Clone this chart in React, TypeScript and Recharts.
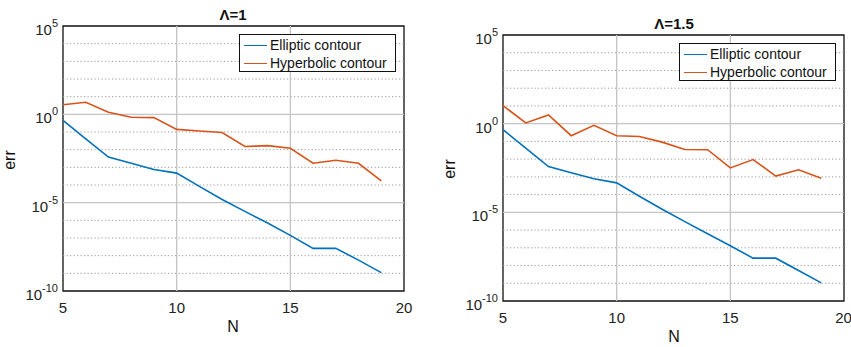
import {
  LineChart,
  Line,
  XAxis,
  YAxis,
  Legend,
  ReferenceLine,
  ReferenceArea,
} from "recharts";

const nValues = [5, 6, 7, 8, 9, 10, 11, 12, 13, 14, 15, 16, 17, 18, 19];

// Λ=1
const ellipticA = [0.46, 0.041, 3.8e-3, 1.7e-3, 7.6e-4, 4.7e-4, 8.3e-5, 1.5e-5, 3.2e-6, 7.1e-7, 1.4e-7, 2.6e-8, 2.6e-8, 5.6e-9, 1.1e-9];
const hyperbolicA = [3.5, 4.8, 1.3, 0.68, 0.65, 0.14, 0.115, 0.093, 0.015, 0.017, 0.012, 1.7e-3, 2.5e-3, 1.7e-3, 1.7e-4];

// Λ=1.5
const ellipticB = [0.46, 0.042, 3.8e-3, 1.7e-3, 7.8e-4, 4.6e-4, 8.1e-5, 1.5e-5, 3.0e-6, 6.2e-7, 1.3e-7, 2.6e-8, 2.6e-8, 5.2e-9, 1.05e-9];
const hyperbolicB = [10.5, 1.1, 3.1, 0.21, 0.81, 0.21, 0.19, 0.091, 0.035, 0.034, 3.2e-3, 9.5e-3, 1.1e-3, 2.5e-3, 8.3e-4];

const xTicks = [5, 10, 15, 20];
const yTicks = [1e-10, 1e-5, 1, 1e5];
const majorY = [1e-5, 1];
const minorY = [1e-9, 1e-8, 1e-7, 1e-6, 1e-4, 1e-3, 1e-2, 1e-1, 10, 100, 1000, 1e4];
const majorX = [10, 15];

const BLUE = "#0072BD";
const ORANGE = "#D95319";
const FONT = "'Liberation Sans', Arial, Helvetica, sans-serif";

const YTick = (props: any) => {
  const { x, y, payload } = props;
  const exp = Math.round(Math.log10(payload.value));
  return (
    <text x={x} y={y + 9} textAnchor="end" fontSize={15} fill="#222" fontFamily={FONT}>
      <tspan>10</tspan>
      <tspan dy={-8} fontSize={11}>{exp}</tspan>
    </text>
  );
};

const LegendBox = () => (
  <div
    style={{
      border: "1.3px solid #111",
      background: "#fff",
      fontFamily: FONT,
      fontSize: 14,
      color: "#111",
      padding: "1px 0",
      boxSizing: "border-box",
      height: 38,
    }}
  >
    {[
      { name: "Elliptic contour", color: BLUE },
      { name: "Hyperbolic contour", color: ORANGE },
    ].map((it) => (
      <div key={it.name} style={{ display: "flex", alignItems: "center", height: 18 }}>
        <div style={{ width: 23, height: 0, borderTop: `1.6px solid ${it.color}`, marginLeft: 4, marginRight: 3 }} />
        <span>{it.name}</span>
      </div>
    ))}
  </div>
);

type PanelProps = {
  elliptic: number[];
  hyperbolic: number[];
  width: number;
  top: number;
  left: number;
  right: number;
  bottom: number;
  legendLeft: number;
  legendTop: number;
};

const Panel = ({ elliptic, hyperbolic, width, top, left, right, bottom, legendLeft, legendTop }: PanelProps) => {
  const data = nValues.map((n, i) => ({ n, elliptic: elliptic[i], hyperbolic: hyperbolic[i] }));
  return (
    <LineChart width={width} height={347} data={data} margin={{ top, right, left: 0, bottom: 0 }}>
      {minorY.map((v) => (
        <ReferenceLine key={"m" + v} y={v} stroke="#999" strokeDasharray="1.2 2.3" strokeWidth={1} />
      ))}
      {majorY.map((v) => (
        <ReferenceLine key={"M" + v} y={v} stroke="#c4c4c4" strokeWidth={1.3} />
      ))}
      {majorX.map((v) => (
        <ReferenceLine key={"x" + v} x={v} stroke="#c4c4c4" strokeWidth={1.3} />
      ))}
      <XAxis
        dataKey="n"
        type="number"
        domain={[5, 20]}
        ticks={xTicks}
        axisLine={false}
        tickLine={false}
        tickSize={0}
        tickMargin={11}
        height={bottom}
        tick={{ fontSize: 15, fill: "#222", fontFamily: FONT }}
      />
      <YAxis
        type="number"
        scale="log"
        domain={[1e-10, 1e5]}
        allowDataOverflow
        ticks={yTicks}
        axisLine={false}
        tickLine={false}
        tickSize={0}
        tickMargin={5}
        width={left}
        tick={<YTick />}
      />
      <Line dataKey="elliptic" stroke={BLUE} strokeWidth={1.6} dot={false} isAnimationActive={false} />
      <Line dataKey="hyperbolic" stroke={ORANGE} strokeWidth={1.6} dot={false} isAnimationActive={false} />
      <ReferenceArea x1={5} x2={20} y1={1e-10} y2={1e5} fill="none" stroke="#111" strokeWidth={1.3} />
      <Legend
        layout="horizontal"
        verticalAlign="middle"
        align="center"
        content={() => <LegendBox />}
        wrapperStyle={{ left: legendLeft, top: legendTop, width: 157, bottom: "auto" }}
      />
    </LineChart>
  );
};

export default function App() {
  return (
    <div style={{ position: "absolute", left: 0, top: 0, width: 851, height: 347, background: "#fff" }}>
      <div style={{ position: "absolute", left: 0, top: 0 }}>
        <Panel
          elliptic={ellipticA}
          hyperbolic={hyperbolicA}
          width={420}
          top={26}
          left={63}
          right={16}
          bottom={56}
          legendLeft={239}
          legendTop={34}
        />
      </div>
      <div style={{ position: "absolute", left: 430, top: 0 }}>
        <Panel
          elliptic={ellipticB}
          hyperbolic={hyperbolicB}
          width={421}
          top={35}
          left={73}
          right={7}
          bottom={46}
          legendLeft={249}
          legendTop={43}
        />
      </div>
      <svg
        width={851}
        height={347}
        style={{ position: "absolute", left: 0, top: 0, pointerEvents: "none" }}
        fontFamily={FONT}
        fill="#111"
      >
        <text x={233} y={20} textAnchor="middle" fontSize={15} fontWeight="bold">Λ=1</text>
        <text x={674} y={29} textAnchor="middle" fontSize={15} fontWeight="bold">Λ=1.5</text>
        <text x={233} y={332} textAnchor="middle" fontSize={16}>N</text>
        <text x={674} y={342} textAnchor="middle" fontSize={16}>N</text>
        <text x={15} y={160} textAnchor="middle" fontSize={16} transform="rotate(-90 15 160)">err</text>
        <text x={455} y={169} textAnchor="middle" fontSize={16} transform="rotate(-90 455 169)">err</text>
      </svg>
    </div>
  );
}
